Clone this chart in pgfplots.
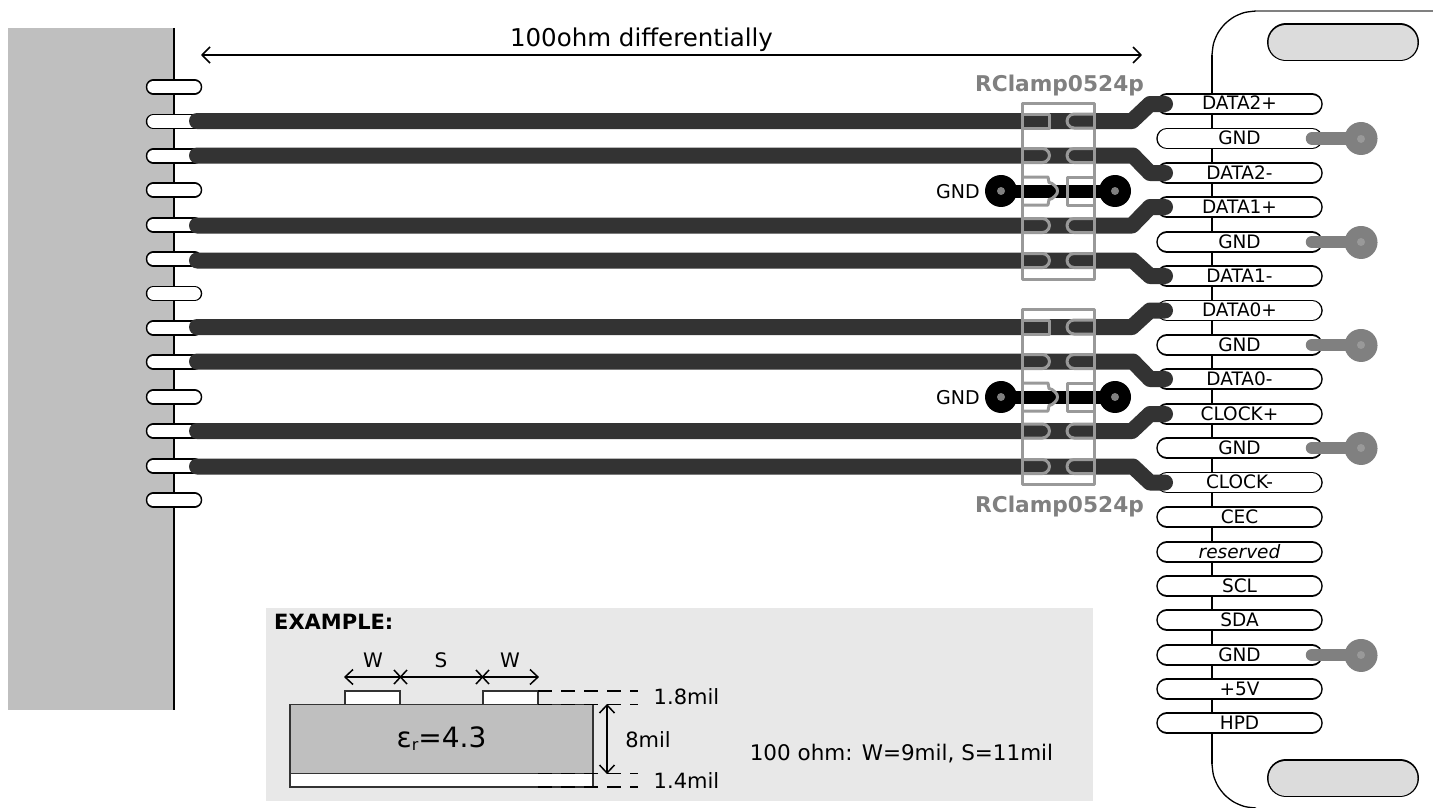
\documentclass[border=0pt]{standalone}
\usepackage{fontspec}
\setmainfont{DejaVu Sans}
\usepackage{pgfplots}
\usepackage{pgfplotstable}
\pgfplotsset{compat=1.18}
\definecolor{slab}{HTML}{BFBFBF}
\definecolor{trace}{HTML}{333333}
\definecolor{gnd}{HTML}{808080}
\definecolor{chip}{HTML}{999999}
\definecolor{slot}{HTML}{DCDCDC}
\definecolor{panel}{HTML}{E8E8E8}
\pgfplotstableread{
x y
1022 -7
1042.5 -7
1046 -6.06
1048.56 -3.5
1049.5 0
1048.56 3.5
1046 6.06
1042.5 7
1022 7
}\padLtab
\pgfplotstableread{
x y
1094 -7
1074 -7
1070.5 -6.06
1067.94 -3.5
1067 0
1067.94 3.5
1070.5 6.06
1074 7
1094 7
}\padRtab
\pgfplotstableread{
x y
1022 -7
1049.5 -7
1049.5 7
1022 7
}\padRecttab
\pgfplotstableread{
x y
1022 -14
1048 -14
1049 -8.5
1052 -7.5
1055 -5
1057 -2.5
1057.5 0
1057 2.5
1055 5
1052 7.5
1049 8.5
1048 14
1022 14
}\padCLtab
\pgfplotstableread{
x y
1094 -14
1067 -14
1067 14
1094 14
}\padCRtab
\newcommand\shape[2]{\addplot[chip,line width=3pt,line join=round] table[x=x,y expr=\thisrow{y}+#2]{#1};}
\newcommand\pinL[1]{%
  \addplot[black,line width=15.5pt,line cap=round] coordinates {(153.5,#1)(194.5,#1)};
  \addplot[white,line width=12.5pt,line cap=round] coordinates {(153.5,#1)(194.5,#1)};}
\newcommand\pinR[1]{%
  \addplot[black,line width=21.5pt,line cap=round] coordinates {(1167,#1)(1312,#1)};
  \addplot[white,line width=18.5pt,line cap=round] coordinates {(1167,#1)(1312,#1)};}
\newcommand\padDot[4]{\addplot[#1,line width=#2pt,line cap=round] coordinates {(#3,#4)(#3.01,#4)};}
\newcommand\gndR[1]{%
  \addplot[gnd,line width=12.5pt,line cap=round] coordinates {(1312,#1)(1361,#1)};
  \padDot{gnd}{33}{1361}{#1}\padDot{chip}{8}{1361}{#1}}
\newcommand\gndC[1]{%
  \addplot[black,line width=13pt] coordinates {(1001,#1)(1115,#1)};
  \padDot{black}{32}{1001}{#1}\padDot{black}{32}{1115}{#1}\padDot{gnd}{8}{1001}{#1}\padDot{gnd}{8}{1115}{#1}}
\newcommand\tr[3]{\addplot[trace,line width=16pt,line cap=round,line join=round] coordinates {(197,#1)(#2,#1)(1150,#3)(1165,#3)};}
\newcommand\T[5][]{\node[anchor=base,inner sep=0pt,#1] at (axis cs:#2,#3) {\fontsize{#4}{#4}\selectfont #5};}
\newcommand\pinT[2]{\node[anchor=base,inner sep=0pt] at (axis cs:1239.5,#1+6) {\fontsize{18.5}{18.5}\selectfont #2};}
\begin{document}
\begin{tikzpicture}
\begin{axis}[width=1440pt,height=808pt,scale only axis,xmin=0,xmax=1440,ymin=0,ymax=808,y dir=reverse,hide axis]
\addplot[fill=white,draw=none] coordinates {(0,0)(1440,0)(1440,808)(0,808)} -- cycle;
% left slab
\addplot[fill=slab,draw=none] coordinates {(8,28)(174,28)(174,710)(8,710)} -- cycle;
\addplot[black,line width=1.5pt] coordinates {(174,28)(174,710)};
\pinL{87}\pinL{121.5}\pinL{156}\pinL{190}\pinL{225}\pinL{259}\pinL{293.5}\pinL{328}\pinL{362}\pinL{397}\pinL{431}\pinL{466}\pinL{500}
% connector outline
\addplot[black,line width=1.3pt] coordinates {(1212,55)(1212,764)};
\addplot[black,line width=1.3pt,smooth] coordinates {(1212,55)(1213.5,43.6)(1217.9,33)(1224.9,23.9)(1234,16.9)(1244.6,12.5)(1256,11)};
\addplot[gnd,line width=1.5pt] coordinates {(1256,11)(1433,11)};
\addplot[black,line width=1.3pt,smooth] coordinates {(1212,764)(1213.5,775.4)(1217.9,786)(1224.9,795.1)(1234,802.1)(1244.6,806.5)(1256,808)};
\addplot[black,line width=38pt,line cap=round] coordinates {(1286,42.5)(1400,42.5)};
\addplot[slot,line width=35pt,line cap=round] coordinates {(1286,42.5)(1400,42.5)};
\addplot[black,line width=38pt,line cap=round] coordinates {(1286,778)(1400,778)};
\addplot[slot,line width=35pt,line cap=round] coordinates {(1286,778)(1400,778)};
\pinR{104}\pinR{138.5}\pinR{173}\pinR{207}\pinR{242}\pinR{276}\pinR{310.5}\pinR{345}\pinR{379}\pinR{414}\pinR{448}\pinR{482.5}\pinR{517}\pinR{552}\pinR{586}\pinR{620}\pinR{655}\pinR{689}\pinR{723}
\gndR{138.5}\gndR{242}\gndR{345}\gndR{448}\gndR{655}
% traces
\tr{121}{1132}{104}\tr{155.5}{1133}{173}
\tr{225.5}{1132}{207}\tr{260.5}{1133}{276}
\tr{327}{1132}{310.5}\tr{361.5}{1133}{379}
\tr{431}{1132}{414}\tr{466.5}{1133}{482.5}
\gndC{191}\gndC{397}
% chips
\addplot[chip,line width=3pt,line join=round] coordinates {(1022,103)(1094.5,103)(1094.5,279)(1022,279)} -- cycle;
\addplot[chip,line width=3pt,line join=round] coordinates {(1022,309)(1094.5,309)(1094.5,484.5)(1022,484.5)} -- cycle;
\shape{\padRecttab}{121}\shape{\padLtab}{155.5}\shape{\padLtab}{225.5}\shape{\padLtab}{260.5}
\shape{\padRecttab}{327}\shape{\padLtab}{361.5}\shape{\padLtab}{431}\shape{\padLtab}{466.5}
\shape{\padRtab}{121}\shape{\padRtab}{155.5}\shape{\padRtab}{225.5}\shape{\padRtab}{260.5}
\shape{\padRtab}{327}\shape{\padRtab}{361.5}\shape{\padRtab}{431}\shape{\padRtab}{466.5}
\shape{\padCLtab}{191}\shape{\padCLtab}{397}
\shape{\padCRtab}{191}\shape{\padCRtab}{397}
% top dimension
\addplot[black,line width=1.5pt] coordinates {(202,55)(1141,55)};
\addplot[black,line width=1.5pt,line join=round] coordinates {(210,47)(202,55)(210,63)};
\addplot[black,line width=1.5pt,line join=round] coordinates {(1133,47)(1141,55)(1133,63)};
% example panel
\addplot[fill=panel,draw=none] coordinates {(266,608)(1093,608)(1093,800.5)(266,800.5)} -- cycle;
\addplot[fill=slab,draw=trace,line width=1.5pt] coordinates {(290,704.5)(593,704.5)(593,773.5)(290,773.5)} -- cycle;
\addplot[fill=white,draw=trace,line width=1.5pt] coordinates {(290,773.5)(593,773.5)(593,787)(290,787)} -- cycle;
\addplot[fill=white,draw=trace,line width=1.5pt] coordinates {(345,691)(400,691)(400,704.5)(345,704.5)} -- cycle;
\addplot[fill=white,draw=trace,line width=1.5pt] coordinates {(483,691)(538,691)(538,704.5)(483,704.5)} -- cycle;
\addplot[black,line width=1.5pt,dash pattern=on 14pt off 9pt] coordinates {(538,691)(638,691)};
\addplot[black,line width=1.5pt,dash pattern=on 14pt off 9pt] coordinates {(538,704.5)(638,704.5)};
\addplot[black,line width=1.5pt,dash pattern=on 14pt off 9pt] coordinates {(538,773.5)(638,773.5)};
\addplot[black,line width=1.5pt,dash pattern=on 14pt off 9pt] coordinates {(538,787)(638,787)};
\addplot[black,line width=1.5pt] coordinates {(345,677)(538,677)};
\addplot[black,line width=1.5pt,line join=round] coordinates {(353,669.5)(345,677)(353,684.5)};
\addplot[black,line width=1.5pt,line join=round] coordinates {(530,669.5)(538,677)(530,684.5)};
\addplot[black,line width=1.5pt] coordinates {(394,670)(407,684)};
\addplot[black,line width=1.5pt] coordinates {(394,684)(407,670)};
\addplot[black,line width=1.5pt] coordinates {(476,670)(489,684)};
\addplot[black,line width=1.5pt] coordinates {(476,684)(489,670)};
\addplot[black,line width=1.5pt] coordinates {(607,705)(607,773)};
\addplot[black,line width=1.5pt,line join=round] coordinates {(599.5,713)(607,705)(614.5,713)};
\addplot[black,line width=1.5pt,line join=round] coordinates {(599.5,765)(607,773)(614.5,765)};
% text
\T{641.5}{47}{24.5}{100ohm differentially}
\T[text=gnd]{1059.5}{92}{21.7}{\bfseries RClamp0524p}
\T[text=gnd]{1059.5}{512}{21.7}{\bfseries RClamp0524p}
\T{958}{198.5}{19}{GND}
\T{958}{404.5}{19}{GND}
\pinT{104}{DATA2+}\pinT{138.5}{GND}\pinT{173}{DATA2-}\pinT{207}{DATA1+}\pinT{242}{GND}\pinT{276}{DATA1-}
\pinT{310.5}{DATA0+}\pinT{345}{GND}\pinT{379}{DATA0-}\pinT{414}{CLOCK+}\pinT{448}{GND}\pinT{482.5}{CLOCK-}
\pinT{517}{CEC}\pinT{552}{\itshape reserved}\pinT{586}{SCL}\pinT{620}{SDA}\pinT{655}{GND}\pinT{689}{+5V}\pinT{723}{HPD}
\T[anchor=base west]{274}{629.5}{21}{\bfseries EXAMPLE:}
\T{373}{667}{20}{W}\T{441}{667}{20}{S}\T{510}{667}{20}{W}
\T{686.5}{704.5}{21}{1.8mil}\T{686.5}{788}{21}{1.4mil}\T{648}{747}{21}{8mil}
\T{441.5}{747.5}{28}{ε{\fontsize{16}{16}\selectfont\raisebox{-3pt}{r}}=4.3}
\T{901.5}{760}{21.5}{100 ohm: W=9mil, S=11mil}
\end{axis}
\end{tikzpicture}
\end{document}
